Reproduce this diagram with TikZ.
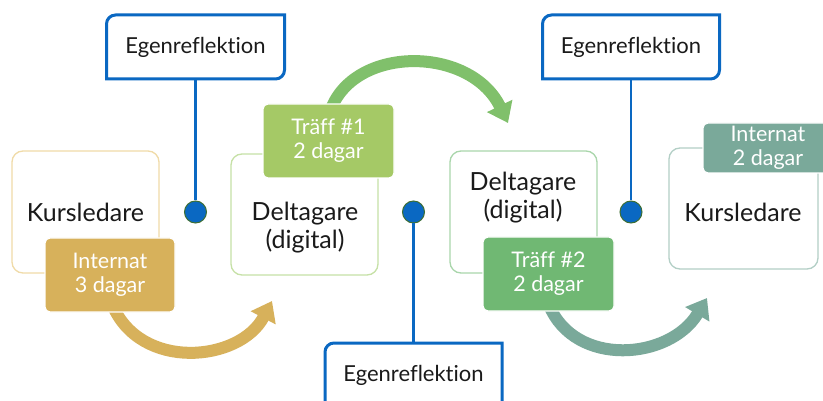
\documentclass[tikz,border=0pt]{standalone}
\usepackage{fontspec}
\setmainfont{Lato}[Ligatures={NoCommon}]
\usetikzlibrary{arrows.meta}
\definecolor{egblue}{HTML}{0A68C2}
\definecolor{dotring}{HTML}{3E6E33}
\definecolor{goldc}{HTML}{D7B15B}
\definecolor{goldline}{HTML}{F0DBA8}
\definecolor{lgreen}{HTML}{A5C966}
\definecolor{lgreenline}{HTML}{C6E1A6}
\definecolor{agreen}{HTML}{80C06B}
\definecolor{mgreen}{HTML}{70B873}
\definecolor{mgreenline}{HTML}{A9D6AB}
\definecolor{tealc}{HTML}{7AA99A}
\definecolor{tealline}{HTML}{B3CFC6}
\definecolor{txt}{HTML}{1A1A1A}
\begin{document}
\begin{tikzpicture}[x=1pt,y=-1pt,
  mainbox/.style={draw, fill=white, line width=1.3pt, rounded corners=11pt, minimum width=147pt, minimum height=122pt, inner sep=0pt},
  maintext/.style={text=txt, font=\fontsize{25}{28}\selectfont, align=center, inner sep=0pt},
  tagbox/.style={draw=white, line width=1.2pt, rounded corners=5pt, minimum width=131pt, minimum height=74pt, inner sep=0pt, text=white, font=\fontsize{21.5}{24}\selectfont, align=center},
  egentext/.style={minimum width=177pt, minimum height=64pt, inner sep=0pt, text=txt, font=\fontsize{22}{24}\selectfont},
  egenline/.style={draw=egblue, line width=3pt, fill=white},
  conn/.style={draw=egblue, line width=2.5pt},
  dotnode/.style={circle, fill=egblue, draw=dotring, line width=1pt, minimum size=22pt, inner sep=0pt},
  flow/.style={line width=12pt, -{Triangle[width=27pt,length=19pt]}}
]
\clip (0,0) rectangle (823,401);
\fill[white] (0,0) rectangle (823,401);

% flow arrows
\draw[flow, color=goldc] (112,304) .. controls (140,372) and (240,362) .. (272,301);
\draw[flow, color=agreen] (330,112) .. controls (352,45) and (470,45) .. (508,123);
\draw[flow, color=tealc] (549,305) .. controls (575,368) and (670,360) .. (707,298);

% main boxes
\node[mainbox, draw=goldline, maintext] (k1) at (85.5,212) {Kursledare};
\node[mainbox, draw=lgreenline, minimum height=121pt] (del1) at (304.5,214.5) {};
\node[mainbox, draw=mgreenline] (del2) at (523.5,212) {};
\node[mainbox, draw=tealline, minimum width=149pt, minimum height=121pt] (k2) at (743.5,208.5) {};
\node[maintext] (del1t) at (305,228) {Deltagare\\(digital)};
\node[maintext] (del2t) at (523,197.5) {Deltagare\\(digital)};
\node[maintext] (k2t) at (743,212.5) {Kursledare};

% tag boxes
\node[tagbox, fill=goldc, minimum width=130pt] (int3) at (110,275) {Internat\\3 dagar};
\node[tagbox, fill=lgreen] (tr1) at (328.5,141) {Träff \#1\\2 dagar};
\node[tagbox, fill=mgreen] (tr2) at (548.5,274) {Träff \#2\\2 dagar};
\node[tagbox, fill=tealc, minimum width=130pt, minimum height=50pt] (int2) at (768,148) {Internat\\2 dagar};

% Egenreflektion boxes
\draw[egenline] (106.5,24) .. controls (106.5,19.03) and (110.53,15) .. (115.5,15) -- (284.5,15) -- (284.5,70) .. controls (284.5,74.97) and (280.47,79) .. (275.5,79) -- (106.5,79) -- cycle;
\draw[egenline] (542.5,24) .. controls (542.5,19.03) and (546.53,15) .. (551.5,15) -- (719.5,15) -- (719.5,70) .. controls (719.5,74.97) and (715.47,79) .. (710.5,79) -- (542.5,79) -- cycle;
\draw[egenline] (325,352) .. controls (325,347.03) and (329.03,343) .. (334,343) -- (502,343) -- (502,420) -- (325,420) -- cycle;
\node[egentext] (eg1) at (195.5,47) {Egenreflektion};
\node[egentext] (eg2) at (631,47) {Egenreflektion};
\node[egentext] (eg3) at (413.5,375.5) {Egenreflektion};

% dots and connectors
\node[dotnode] (d1) at (195.5,212) {};
\node[dotnode] (d2) at (413.5,212) {};
\node[dotnode] (d3) at (631,212) {};
\draw[conn] (eg1.south) -- (d1);
\draw[conn] (d2) -- (eg3.north);
\draw[conn] (eg2.south) -- (d3);
\end{tikzpicture}
\end{document}
